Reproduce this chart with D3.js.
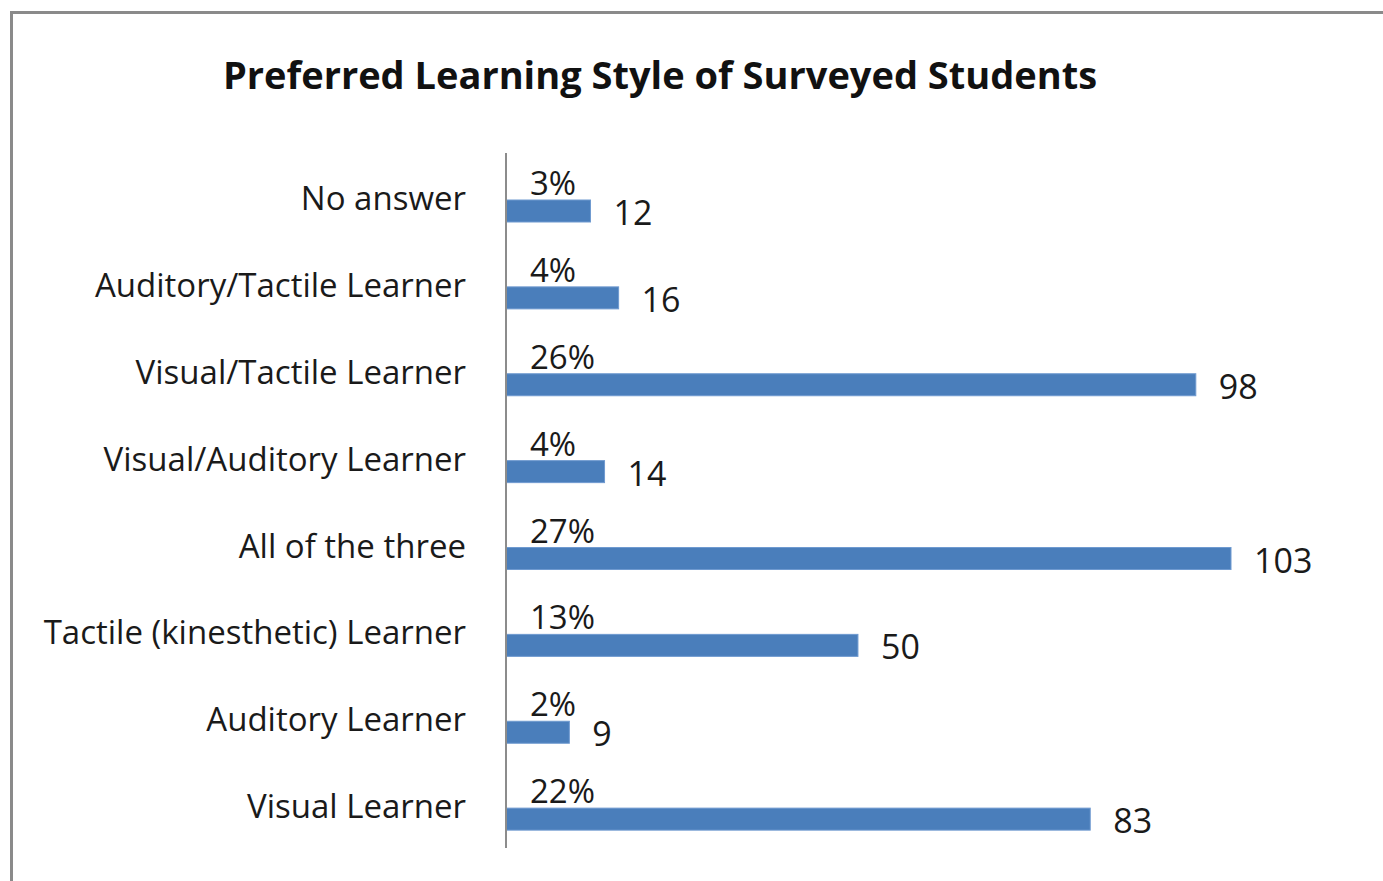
<!DOCTYPE html>
<meta charset="utf-8">
<script src="https://d3js.org/d3.v7.min.js"></script>
<style>
body { margin: 0; background: #fff; }
text { fill: #1a1a1a; font-family: "Open Sans", sans-serif; }
.title { font-weight: bold; fill: #111; }
</style>
<body>
<script>

// data, top to bottom
var categories = ["No answer", "Auditory/Tactile Learner", "Visual/Tactile Learner",
  "Visual/Auditory Learner", "All of the three", "Tactile (kinesthetic) Learner",
  "Auditory Learner", "Visual Learner"];
var counts = [12, 16, 98, 14, 103, 50, 9, 83];
var percents = ["3%", "4%", "26%", "4%", "27%", "13%", "2%", "22%"];

var width = 1383, height = 881;
var margin = {top: 153, left: 506, bottom: 33};

var svg = d3.select("body").append("svg")
    .attr("width", width)
    .attr("height", height);

// chart frame (runs off the right and bottom of the picture)
svg.append("rect")
    .attr("x", 11.5).attr("y", 12.5)
    .attr("width", 1400).attr("height", 900)
    .attr("fill", "none")
    .attr("stroke", "#8a8a8a")
    .attr("stroke-width", 3);

svg.append("text")
    .attr("class", "title")
    .attr("x", 660).attr("y", 89)
    .attr("text-anchor", "middle")
    .style("font-size", "38px")
    .text("Preferred Learning Style of Surveyed Students");

var x = d3.scaleLinear()
    .domain([0, 103])
    .range([margin.left, 1231]);

var y = d3.scaleBand()
    .domain(categories)
    .range([margin.top, height - margin.bottom]);

var barH = 22;
var barOff = 47; // bar sits low in its band, labels above

var g = svg.append("g");

g.selectAll("rect.bar")
    .data(categories)
    .enter().append("rect")
    .attr("class", "bar")
    .attr("x", x(0))
    .attr("y", function(d) { return y(d) + barOff; })
    .attr("width", function(d, i) { return x(counts[i]) - x(0); })
    .attr("height", barH)
    .attr("fill", "#4a7ebb")
    .attr("stroke", "#6f9ad0")
    .attr("stroke-width", 1);

// axis line
svg.append("line")
    .attr("x1", margin.left).attr("x2", margin.left)
    .attr("y1", margin.top).attr("y2", height - margin.bottom)
    .attr("stroke", "#8c8c8c")
    .attr("stroke-width", 2);

// category labels
g.selectAll("text.cat")
    .data(categories)
    .enter().append("text")
    .attr("class", "cat")
    .attr("x", 466)
    .attr("y", function(d) { return y(d) + 57; })
    .attr("text-anchor", "end")
    .style("font-size", "33px")
    .text(function(d) { return d; });

// percent labels
g.selectAll("text.pct")
    .data(categories)
    .enter().append("text")
    .attr("class", "pct")
    .attr("x", x(0) + 24)
    .attr("y", function(d) { return y(d) + 42; })
    .style("font-size", "33px")
    .text(function(d, i) { return percents[i]; });

// count labels
g.selectAll("text.val")
    .data(categories)
    .enter().append("text")
    .attr("class", "val")
    .attr("x", function(d, i) { return x(counts[i]) + 23; })
    .attr("y", function(d) { return y(d) + 72; })
    .style("font-size", "34px")
    .text(function(d, i) { return counts[i]; });

</script>
</body>
